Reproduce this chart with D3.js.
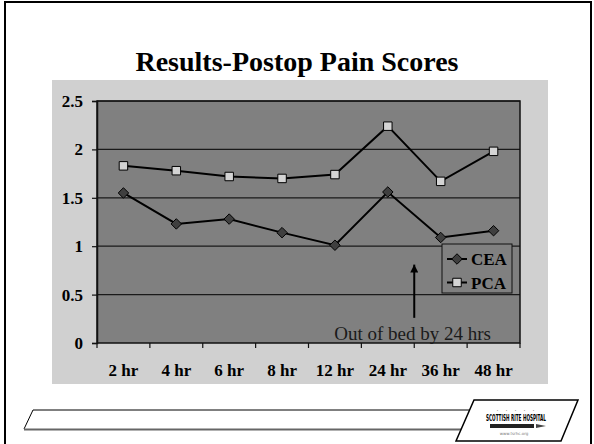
<!DOCTYPE html>
<html>
<head>
<meta charset="utf-8">
<script src="https://cdn.jsdelivr.net/npm/d3@7"></script>
<style>
  body { margin: 0; background: #fff; }
  svg { display: block; font-family: "Liberation Serif", "DejaVu Serif", serif; }
</style>
</head>
<body>
<div id="chart"></div>
<script>
const categories = ["2 hr", "4 hr", "6 hr", "8 hr", "12 hr", "24 hr", "36 hr", "48 hr"];
const ceaValues = [1.55, 1.23, 1.28, 1.14, 1.01, 1.56, 1.09, 1.16];
const pcaValues = [1.83, 1.78, 1.72, 1.70, 1.74, 2.24, 1.67, 1.98];
const yTicks = [0, 0.5, 1, 1.5, 2, 2.5];
const seriesNames = ["CEA", "PCA"];

const W = 594, H = 444;
const plot = { left: 97, top: 101, right: 520, bottom: 343 };

const svg = d3.select("#chart")
    .append("svg")
    .attr("width", W)
    .attr("height", H);

// slide frame
svg.append("rect")
    .attr("x", 5).attr("y", 2)
    .attr("width", 586).attr("height", 460)
    .attr("fill", "#fff")
    .attr("stroke", "#000")
    .attr("stroke-width", 2);

svg.append("text")
    .attr("x", W / 2)
    .attr("y", 71)
    .attr("text-anchor", "middle")
    .style("font-size", "28px")
    .style("font-weight", "bold")
    .text("Results-Postop Pain Scores");

// chart area (light gray)
svg.append("rect")
    .attr("x", 52).attr("y", 80)
    .attr("width", 496).attr("height", 304)
    .attr("fill", "#d0d0d0");

const x = d3.scaleBand()
    .domain(categories)
    .range([plot.left, plot.right]);

const y = d3.scaleLinear()
    .domain([0, 2.5])
    .range([plot.bottom, plot.top]);

svg.append("rect")
    .attr("x", plot.left).attr("y", plot.top)
    .attr("width", plot.right - plot.left)
    .attr("height", plot.bottom - plot.top)
    .attr("fill", "#808080");

// gridlines
svg.append("g")
    .selectAll("line")
    .data(yTicks.filter(d => d > 0))
    .enter()
    .append("line")
    .attr("x1", plot.left).attr("x2", plot.right)
    .attr("y1", d => y(d)).attr("y2", d => y(d))
    .attr("stroke", "#1a1a1a")
    .attr("stroke-width", 1.2);

svg.append("rect")
    .attr("x", plot.left).attr("y", plot.top)
    .attr("width", plot.right - plot.left)
    .attr("height", plot.bottom - plot.top)
    .attr("fill", "none")
    .attr("stroke", "#111")
    .attr("stroke-width", 1.5);

// y axis
const yAxis = svg.append("g")
    .attr("transform", `translate(${plot.left},0)`)
    .call(d3.axisLeft(y).tickValues(yTicks).tickSize(5).tickPadding(9).tickFormat(d => String(d)));
yAxis.select(".domain").attr("stroke", "#111").attr("stroke-width", 1.5);
yAxis.selectAll(".tick line").attr("stroke", "#111").attr("stroke-width", 1.2);
yAxis.selectAll("text")
    .attr("fill", "#000")
    .style("font-family", "'Liberation Serif', serif")
    .style("font-size", "17px")
    .style("font-weight", "bold");

// x axis: labels at band centres, tick marks between categories
const xAxis = svg.append("g")
    .attr("transform", `translate(0,${plot.bottom})`)
    .call(d3.axisBottom(x).tickSize(0).tickPadding(21));
xAxis.select(".domain").remove();
xAxis.selectAll("text")
    .attr("fill", "#000")
    .style("font-family", "'Liberation Serif', serif")
    .style("font-size", "17px")
    .style("font-weight", "bold");

const edges = categories.map(c => x(c)).concat([x.range()[1]]);
svg.append("g")
    .selectAll("line")
    .data(edges)
    .enter()
    .append("line")
    .attr("x1", d => d).attr("x2", d => d)
    .attr("y1", plot.bottom).attr("y2", plot.bottom + 5)
    .attr("stroke", "#111")
    .attr("stroke-width", 1.2);

const line = d3.line()
    .x((d, i) => x(categories[i]) + x.bandwidth() / 2)
    .y(d => y(d));

[pcaValues, ceaValues].forEach(vals => {
    svg.append("path")
        .datum(vals)
        .attr("d", line)
        .attr("fill", "none")
        .attr("stroke", "#000")
        .attr("stroke-width", 2);
});

const diamond = d3.symbol().type(d3.symbolDiamond2).size(70);
const square = d3.symbol().type(d3.symbolSquare).size(72);

svg.append("g")
    .selectAll("path")
    .data(ceaValues)
    .enter()
    .append("path")
    .attr("d", diamond)
    .attr("transform", (d, i) => `translate(${x(categories[i]) + x.bandwidth() / 2},${y(d)})`)
    .attr("fill", "#3f3f3f")
    .attr("stroke", "#000")
    .attr("stroke-width", 1);

svg.append("g")
    .selectAll("path")
    .data(pcaValues)
    .enter()
    .append("path")
    .attr("d", square)
    .attr("transform", (d, i) => `translate(${x(categories[i]) + x.bandwidth() / 2},${y(d)})`)
    .attr("fill", "#d4d4d4")
    .attr("stroke", "#000")
    .attr("stroke-width", 1);

// annotation arrow at the 24 hr / 36 hr boundary
const ax = x("36 hr");
svg.append("defs").append("marker")
    .attr("id", "arrow")
    .attr("viewBox", "0 0 10 10")
    .attr("refX", 10).attr("refY", 5)
    .attr("markerWidth", 4).attr("markerHeight", 4)
    .attr("orient", "auto")
    .append("path")
    .attr("d", "M0,0 L10,5 L0,10 z")
    .attr("fill", "#000");

svg.append("line")
    .attr("x1", ax).attr("x2", ax)
    .attr("y1", y(0.26)).attr("y2", y(0.81))
    .attr("stroke", "#000")
    .attr("stroke-width", 2)
    .attr("marker-end", "url(#arrow)");

svg.append("text")
    .attr("x", 491)
    .attr("y", 340)
    .attr("text-anchor", "end")
    .attr("fill", "#1a1a1a")
    .style("font-size", "19px")
    .text("Out of bed by 24 hrs");

// legend
const legend = svg.append("g").attr("transform", "translate(442,244)");
legend.append("rect")
    .attr("width", 70).attr("height", 49)
    .attr("fill", "#808080")
    .attr("stroke", "#111")
    .attr("stroke-width", 1);

seriesNames.forEach((name, i) => {
    const ly = 15 + i * 23.5;
    legend.append("line")
        .attr("x1", 5).attr("x2", 25)
        .attr("y1", ly).attr("y2", ly)
        .attr("stroke", "#000")
        .attr("stroke-width", 2);
    legend.append("path")
        .attr("d", i === 0 ? diamond : square)
        .attr("transform", `translate(15,${ly})`)
        .attr("fill", i === 0 ? "#3f3f3f" : "#d4d4d4")
        .attr("stroke", "#000")
        .attr("stroke-width", 1);
    legend.append("text")
        .attr("x", 29)
        .attr("y", ly + 6)
        .style("font-size", "17px")
        .style("font-weight", "bold")
        .text(name);
});

// footer decoration
svg.append("path")
    .attr("d", "M24,429 L33,410 L475,410")
    .attr("fill", "none")
    .attr("stroke", "#000")
    .attr("stroke-width", 1);
svg.append("line")
    .attr("x1", 24).attr("x2", 470)
    .attr("y1", 429.5).attr("y2", 429.5)
    .attr("stroke", "#666")
    .attr("stroke-width", 2);

const logo = svg.append("g");
logo.append("path")
    .attr("d", "M474,400 L578,400 L561,441 L456,441 Z")
    .attr("fill", "#fff")
    .attr("stroke", "#000")
    .attr("stroke-width", 1.5);
logo.append("text")
    .attr("x", 517).attr("y", 411)
    .attr("text-anchor", "middle")
    .attr("fill", "#555")
    .style("font-size", "6px")
    .style("letter-spacing", "3px")
    .text(". . . . .");
logo.append("text")
    .attr("x", 516).attr("y", 421)
    .attr("text-anchor", "middle")
    .style("font-family", "'DejaVu Sans Condensed', sans-serif")
    .style("font-size", "8px")
    .style("font-weight", "bold")
    .attr("textLength", 60)
    .attr("lengthAdjust", "spacingAndGlyphs")
    .text("SCOTTISH RITE HOSPITAL");
logo.append("rect")
    .attr("x", 490).attr("y", 424)
    .attr("width", 44).attr("height", 4)
    .attr("fill", "#222");
logo.append("path")
    .attr("d", "M536,424 L546,426 L536,428 Z")
    .attr("fill", "#444");
logo.append("text")
    .attr("x", 514).attr("y", 435)
    .attr("text-anchor", "middle")
    .attr("fill", "#777")
    .style("font-family", "'DejaVu Sans', sans-serif")
    .style("font-size", "4px")
    .text("www.tsrhc.org");
</script>
</body>
</html>
